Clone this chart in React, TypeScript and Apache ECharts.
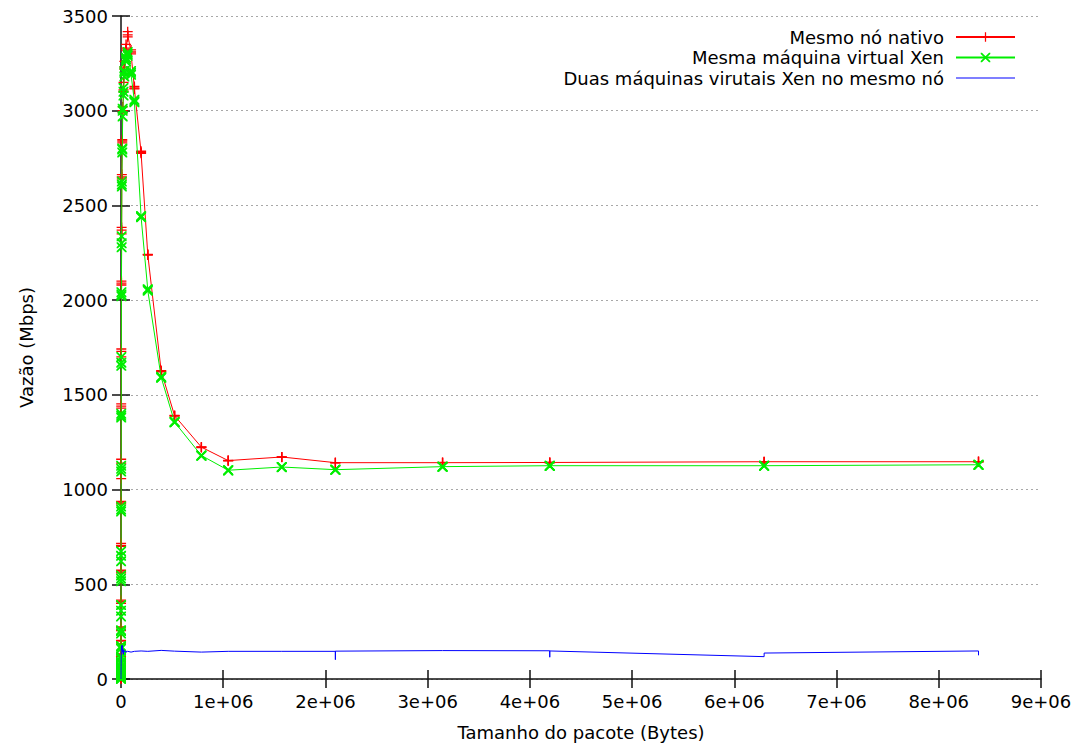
import React, { useEffect, useRef } from "react";
import * as echarts from "echarts";

// NetPIPE message sizes (bytes)
const sizes = [
  1, 2, 3, 4, 6, 8, 12,
  13, 16, 19, 21, 24, 27, 29, 32, 35, 45, 48, 51, 61, 64, 67,
  93, 96, 99, 125, 128, 131, 189, 192, 195, 253, 256, 259,
  381, 384, 387, 509, 512, 515, 765, 768, 771, 1021, 1024, 1027,
  1533, 1536, 1539, 2045, 2048, 2051, 3069, 3072, 3075, 4093, 4096, 4099,
  6141, 6144, 6147, 8189, 8192, 8195, 12285, 12288, 12291, 16381, 16384, 16387,
  24573, 24576, 24579, 32765, 32768, 32771, 49149, 49152, 49155, 65533, 65536, 65539,
  98301, 98304, 98307, 131069, 131072, 131075, 196605, 196608, 196611,
  262141, 262144, 262147, 393213, 393216, 393219, 524285, 524288, 524291,
  786429, 786432, 786435, 1048573, 1048576, 1048579, 1572861, 1572864, 1572867,
  2097149, 2097152, 2097155, 3145725, 3145728, 3145731, 4194301, 4194304, 4194307,
  6291453, 6291456, 6291459, 8388605, 8388608, 8388611,
];

// Mesmo nó nativo (Mbps)
const nativo = [
  1.1, 2.2, 3.3, 4.4, 6.5, 8.7, 13,
  14, 17, 20, 22, 26, 29, 31, 35, 38, 47, 52, 55, 64, 70, 72,
  92, 100, 103, 120, 130, 133, 185, 200, 204, 255, 270, 275,
  400, 416, 410, 560, 574, 565, 705, 716, 700, 925, 937, 930,
  1140, 1160, 1058, 1440, 1452, 1430, 1730, 1742, 1700, 2090, 2100, 2080,
  2370, 2384, 2350, 2650, 2663, 2640, 2840, 2847, 2830, 3000, 3020, 2990,
  3110, 3150, 3100, 3230, 3260, 3220, 3330, 3350, 3320, 3390, 3417, 3400,
  3310, 3321, 3300, 3120, 3128, 3115, 2780, 2786, 2775,
  2240, 2242, 2238, 1625, 1628, 1622, 1390, 1391, 1388,
  1224, 1225, 1222, 1153, 1154, 1152, 1172, 1172, 1170,
  1142, 1142, 1141, 1142, 1143, 1142, 1143, 1143, 1142,
  1147, 1147, 1146, 1147, 1148, 1147,
];

// Mesma máquina virtual Xen (Mbps)
const mesmaVM = [
  1.0, 2.0, 3.0, 4.0, 6.0, 8.0, 12,
  13, 15, 18, 20, 23, 26, 28, 31, 34, 42, 46, 49, 56, 60, 63,
  82, 88, 90, 105, 115, 117, 160, 170, 174, 240, 253, 258,
  330, 360, 390, 516, 530, 547, 621, 650, 674, 884, 895, 910,
  1095, 1110, 1126, 1380, 1400, 1390, 1653, 1670, 1700, 2021, 2042, 2030,
  2279, 2300, 2337, 2600, 2610, 2626, 2795, 2800, 2780, 2970, 3000, 3010,
  3080, 3100, 3120, 3180, 3200, 3210, 3260, 3270, 3280, 3290, 3300, 3310,
  3200, 3210, 3190, 3050, 3058, 3045, 2440, 2444, 2438,
  2055, 2058, 2050, 1592, 1595, 1590, 1356, 1358, 1355,
  1180, 1180, 1178, 1102, 1102, 1101, 1119, 1119, 1118,
  1105, 1105, 1104, 1121, 1121, 1120, 1126, 1126, 1125,
  1126, 1126, 1126, 1131, 1131, 1130,
];

// Duas máquinas virutais Xen no mesmo nó (Mbps)
const duasVM = [
  0.1, 0.2, 0.3, 0.4, 0.6, 0.8, 1.2,
  1.3, 1.6, 1.9, 2.1, 2.4, 2.7, 2.9, 3.2, 3.5, 4.5, 4.8, 5.1, 6, 6.4, 6.7,
  9, 9.5, 9.8, 12, 12.5, 13, 18, 19, 19, 24, 25, 25,
  35, 37, 37, 46, 48, 48, 65, 68, 68, 80, 84, 85,
  105, 108, 110, 120, 126, 128, 145, 150, 152, 160, 166, 168,
  170, 174, 172, 150, 176, 158, 160, 178, 165, 140, 150, 145,
  130, 155, 140, 145, 150, 148, 140, 146, 144, 146, 148, 147,
  142, 145, 143, 146, 147, 146, 148, 149, 148,
  146, 147, 146, 151, 150, 151, 147, 148, 147,
  142, 143, 142, 146, 146, 146, 146, 147, 147,
  146, 102, 147, 150, 151, 150, 149, 115, 148,
  118, 119, 137, 148, 148, 125,
];

const seriesNames = [
  "Mesmo nó nativo",
  "Mesma máquina virtual Xen",
  "Duas máquinas virutais Xen no mesmo nó",
];

const xTickValues = [0, 1e6, 2e6, 3e6, 4e6, 5e6, 6e6, 7e6, 8e6, 9e6];
const yTickValues = [0, 500, 1000, 1500, 2000, 2500, 3000, 3500];

const FONT = "DejaVu Sans";
const plusPath =
  "path://M8.7,0L11.3,0L11.3,8.7L20,8.7L20,11.3L11.3,11.3L11.3,20L8.7,20L8.7,11.3L0,11.3L0,8.7L8.7,8.7Z";
const crossPath =
  "path://M0,0L2.6,0L10,7.4L17.4,0L20,0L20,2.6L12.6,10L20,17.4L20,20L17.4,20L10,12.6L2.6,20L0,20L0,17.4L7.4,10L0,2.6Z";
const thinLinePath = "path://M0,0L59,0L59,1.1L0,1.1Z";

const xFmt = (v: number) => (v === 0 ? "0" : `${Math.round(v / 1e6)}e+06`);
const yFmt = (v: number) => String(v);

export default function App() {
  const ref = useRef<HTMLDivElement>(null);
  useEffect(() => {
    if (!ref.current) return;
    const chart = echarts.init(ref.current, undefined, { renderer: "svg" });
    const xMin = xTickValues[0];
    const xMax = xTickValues[xTickValues.length - 1];
    const xInt = xTickValues[1] - xTickValues[0];
    const yMin = yTickValues[0];
    const yMax = yTickValues[yTickValues.length - 1];
    const yInt = yTickValues[1] - yTickValues[0];
    const axisColor = "#111";
    const tick = { show: true, inside: true, length: 9, lineStyle: { color: axisColor, width: 1.5 } };
    const mk = (vals: number[]) => sizes.map((s, i) => [s, vals[i]]);
    chart.setOption({
      animation: false,
      backgroundColor: "#fff",
      textStyle: { fontFamily: FONT },
      grid: { left: 121, right: 50, top: 16, bottom: 65, containLabel: false },
      legend: {
        orient: "vertical",
        align: "right",
        right: 70,
        top: 23,
        itemWidth: 59,
        itemHeight: 12,
        itemGap: 2.5,
        textStyle: {
          fontFamily: FONT,
          fontSize: 18,
          color: "#000",
          lineHeight: 18,
          padding: [0, 7, 0, 0],
        },
        data: [
          { name: seriesNames[0] },
          { name: seriesNames[1] },
          { name: seriesNames[2], icon: thinLinePath },
        ],
      },
      xAxis: [
        {
          type: "value",
          position: "bottom",
          min: xMin,
          max: xMax,
          interval: xInt,
          name: "Tamanho do pacote (Bytes)",
          nameLocation: "middle",
          nameGap: 44,
          nameTextStyle: { fontFamily: FONT, fontSize: 18, color: "#000" },
          axisLine: { show: true, lineStyle: { color: axisColor, width: 1.5 } },
          axisTick: tick,
          axisLabel: { formatter: xFmt, fontFamily: FONT, fontSize: 18, color: "#000", margin: 13 },
          splitLine: { show: false },
        },
        {
          type: "value",
          position: "top",
          min: xMin,
          max: xMax,
          interval: xInt,
          axisLine: { show: false },
          axisTick: tick,
          axisLabel: { show: false },
          splitLine: { show: false },
        },
      ],
      yAxis: [
        {
          type: "value",
          position: "left",
          min: yMin,
          max: yMax,
          interval: yInt,
          name: "Vazão (Mbps)",
          nameLocation: "middle",
          nameGap: 86,
          nameTextStyle: { fontFamily: FONT, fontSize: 18, color: "#000" },
          axisLine: { show: true, lineStyle: { color: axisColor, width: 1.5 } },
          axisTick: tick,
          axisLabel: { formatter: yFmt, fontFamily: FONT, fontSize: 18, color: "#000", margin: 13 },
          splitLine: { show: true, lineStyle: { color: "#a8a8a8", width: 1, type: [2, 3] } },
        },
        {
          type: "value",
          position: "right",
          min: yMin,
          max: yMax,
          interval: yInt,
          axisLine: { show: false },
          axisTick: tick,
          axisLabel: { show: false },
          splitLine: { show: false },
        },
      ],
      series: [
        {
          name: seriesNames[0],
          type: "line",
          xAxisIndex: 0,
          yAxisIndex: 0,
          data: mk(nativo),
          symbol: plusPath,
          symbolSize: 10,
          lineStyle: { color: "#ff0000", width: 1 },
          itemStyle: { color: "#ff0000" },
          emphasis: { disabled: true },
          z: 2,
        },
        {
          name: seriesNames[1],
          type: "line",
          xAxisIndex: 0,
          yAxisIndex: 0,
          data: mk(mesmaVM),
          symbol: crossPath,
          symbolSize: 10,
          lineStyle: { color: "#00ee00", width: 1 },
          itemStyle: { color: "#00ee00" },
          emphasis: { disabled: true },
          z: 3,
        },
        {
          name: seriesNames[2],
          type: "line",
          xAxisIndex: 0,
          yAxisIndex: 0,
          data: mk(duasVM),
          symbol: "none",
          lineStyle: { color: "#0000ff", width: 1 },
          itemStyle: { color: "#0000ff" },
          emphasis: { disabled: true },
          z: 4,
        },
      ],
    });
    return () => chart.dispose();
  }, []);
  return (
    <div
      ref={ref}
      style={{ position: "absolute", left: 0, top: 0, width: 1091, height: 746, background: "#fff" }}
    />
  );
}
